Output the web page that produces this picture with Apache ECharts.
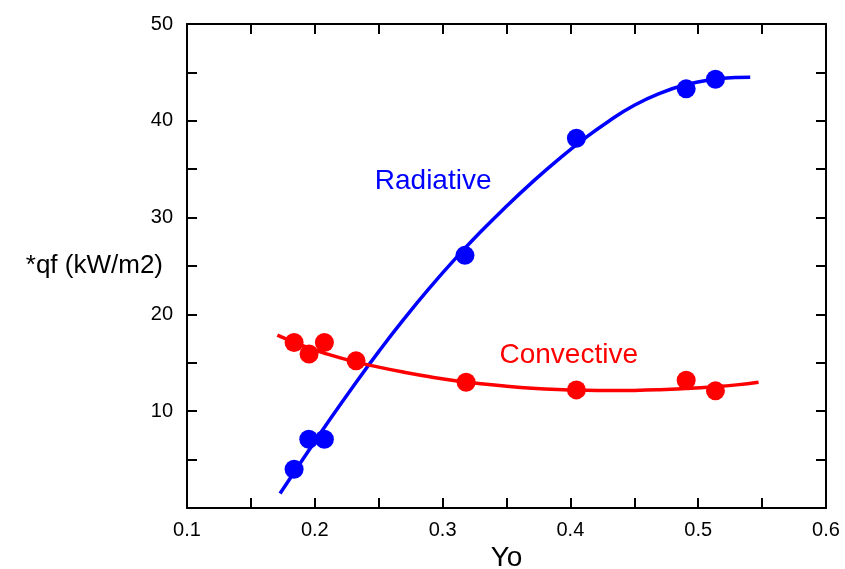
<!DOCTYPE html>
<html>
  <head>
    <meta charset="utf-8" />
    <title>qf vs Yo</title>
    <script src="https://cdn.jsdelivr.net/npm/echarts@6/dist/echarts.min.js"></script>
  </head>
  <body style="margin:0">
    <div id="main" style="width: 845px;height:569px;"></div>
    <script type="text/javascript">
      // measured points
      var radX = [0.1838, 0.1953, 0.2075, 0.3175, 0.4047, 0.4906, 0.5135];
      var radY = [4.0, 7.1, 7.1, 26.1, 38.2, 43.3, 44.3];
      var convX = [0.1838, 0.1955, 0.2075, 0.2323, 0.3184, 0.4047, 0.4906, 0.5135];
      var convY = [17.1, 15.9, 17.1, 15.2, 13.0, 12.2, 13.2, 12.1];

      // fitted curves
      var radFitX = [0.1728, 0.19, 0.21, 0.23, 0.25, 0.27, 0.29, 0.31, 0.33, 0.35, 0.37, 0.39, 0.41, 0.43, 0.45, 0.47, 0.49, 0.51, 0.53, 0.5407];
      var radFitY = [1.5, 4.9, 8.8, 12.56, 16.16, 19.56, 22.76, 25.76, 28.56, 31.18, 33.64, 35.94, 38.06, 39.96, 41.6, 42.84, 43.72, 44.24, 44.48, 44.51];
      var convFitX = [0.1707, 0.19, 0.21, 0.23, 0.25, 0.27, 0.29, 0.31, 0.33, 0.35, 0.37, 0.39, 0.41, 0.43, 0.45, 0.47, 0.49, 0.51, 0.53, 0.5472];
      var convFitY = [17.85, 16.79, 15.89, 15.15, 14.55, 14.02, 13.55, 13.15, 12.83, 12.58, 12.38, 12.24, 12.16, 12.13, 12.15, 12.22, 12.34, 12.5, 12.72, 13.0];

      function pairs(xs, ys) {
        return xs.map(function (x, i) { return [x, ys[i]]; });
      }

      var font = "'Liberation Sans', Arial, Helvetica, sans-serif";
      var BLUE = '#0000ff';
      var RED = '#ff0000';

      function isMajor(v, step) {
        var k = v / step;
        return Math.abs(k - Math.round(k)) < 1e-6;
      }

      var axisLine = { show: true, onZero: false, lineStyle: { color: '#000', width: 2 } };
      var axisTick = { show: true, inside: true, length: 10, lineStyle: { color: '#000', width: 2 } };

      var myChart = echarts.init(document.getElementById('main'));
      myChart.setOption({
        backgroundColor: '#fff',
        animation: false,
        grid: { left: 187, right: 19, top: 24, bottom: 61, outerBoundsMode: 'none' },
        xAxis: [
          {
            type: 'value', position: 'bottom', min: 0.1, max: 0.6, interval: 0.05,
            name: 'Yo', nameLocation: 'middle', nameGap: 36, nameMoveOverlap: false,
            nameTextStyle: { fontFamily: font, fontSize: 28, color: '#000' },
            axisLine: axisLine, axisTick: axisTick, splitLine: { show: false },
            axisLabel: {
              fontFamily: font, fontSize: 20, color: '#000', margin: 12,
              formatter: function (v) { return isMajor(v, 0.1) ? v.toFixed(1) : ''; }
            }
          },
          {
            type: 'value', position: 'top', min: 0.1, max: 0.6, interval: 0.05,
            axisLine: axisLine, axisTick: axisTick, axisLabel: { show: false }, splitLine: { show: false }
          }
        ],
        yAxis: [
          {
            type: 'value', position: 'left', min: 0, max: 50, interval: 5,
            name: '*qf (kW/m2)', nameLocation: 'middle', nameRotate: 0, nameGap: 24, nameMoveOverlap: false,
            nameTextStyle: { fontFamily: font, fontSize: 26, color: '#000', padding: [6, 0, 0, 0] },
            axisLine: axisLine, axisTick: axisTick, splitLine: { show: false },
            axisLabel: {
              fontFamily: font, fontSize: 20, color: '#000', margin: 14,
              formatter: function (v) { return (v > 0 && isMajor(v, 10)) ? String(v) : ''; }
            }
          },
          {
            type: 'value', position: 'right', min: 0, max: 50, interval: 5,
            axisLine: axisLine, axisTick: axisTick, axisLabel: { show: false }, splitLine: { show: false }
          }
        ],
        series: [
          {
            name: 'Radiative fit', type: 'line', smooth: true, showSymbol: false,
            data: pairs(radFitX, radFitY),
            lineStyle: { color: BLUE, width: 3.5 },
            markPoint: {
              symbol: 'circle', symbolSize: 0, silent: true,
              data: [{ coord: [0.2926, 33.8], value: 'Radiative' }],
              label: { show: true, position: 'inside', formatter: 'Radiative', color: BLUE, fontFamily: font, fontSize: 28 }
            }
          },
          {
            name: 'Convective fit', type: 'line', smooth: true, showSymbol: false,
            data: pairs(convFitX, convFitY),
            lineStyle: { color: RED, width: 3.5 },
            markPoint: {
              symbol: 'circle', symbolSize: 0, silent: true,
              data: [{ coord: [0.3987, 15.8], value: 'Convective' }],
              label: { show: true, position: 'inside', formatter: 'Convective', color: RED, fontFamily: font, fontSize: 28 }
            }
          },
          {
            name: 'Radiative', type: 'scatter', symbolSize: 19,
            itemStyle: { color: BLUE, opacity: 1 },
            data: pairs(radX, radY)
          },
          {
            name: 'Convective', type: 'scatter', symbolSize: 19,
            itemStyle: { color: RED, opacity: 1 },
            data: pairs(convX, convY)
          }
        ]
      });
    </script>
  </body>
</html>
